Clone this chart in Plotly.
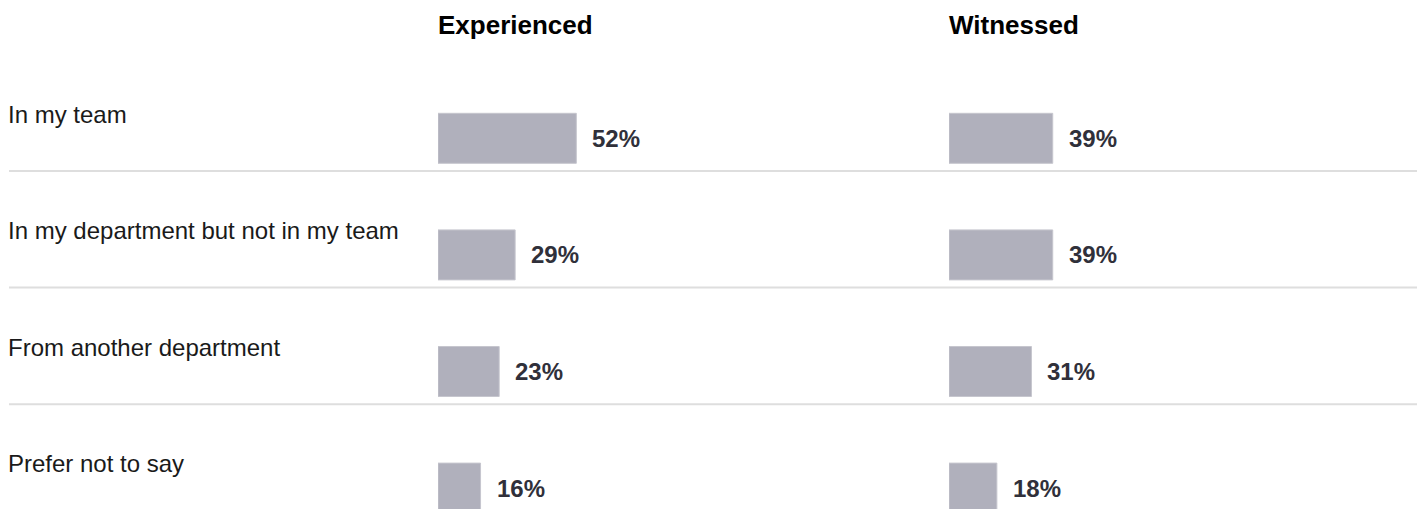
import plotly.graph_objects as go

# ---- data ----
categories = ["In my team", "In my department but not in my team",
              "From another department", "Prefer not to say"]
experienced = [52, 29, 23, 16]
witnessed = [39, 39, 31, 18]
column_titles = ["Experienced", "Witnessed"]

# ---- layout constants (window pixels) ----
OFF = 8                # browser body margin
W, H = 1425 - OFF, 509 - OFF
pitch = 116.6          # row pitch in px
first_center = 138.3 - OFF
px_per_pct = 2.66
bar_h = 50
x1_start, x1_end = 438 - OFF, 940 - OFF
x2_start, x2_end = 949 - OFF, W

bar_color = "#b0b0bc"
bar_edge = "#c6c6ce"
font_family = "Liberation Sans, Arial, sans-serif"


def ypos(px):
    """window pixel -> row units"""
    return (px - OFF - first_center) / pitch


y_top = -first_center / pitch
y_bot = (H - first_center) / pitch
rows = list(range(len(categories)))

fig = go.Figure()
fig.add_trace(go.Bar(x=experienced, y=rows, orientation="h", width=bar_h / pitch,
                     marker=dict(color=bar_color, line=dict(color=bar_edge, width=1)),
                     xaxis="x", yaxis="y", hoverinfo="skip"))
fig.add_trace(go.Bar(x=witnessed, y=rows, orientation="h", width=bar_h / pitch,
                     marker=dict(color=bar_color, line=dict(color=bar_edge, width=1)),
                     xaxis="x2", yaxis="y", hoverinfo="skip"))

annotations = []
for i, (cat, e, w) in enumerate(zip(categories, experienced, witnessed)):
    annotations.append(dict(text=cat, xref="paper", x=0, xanchor="left", xshift=-2,
                            yref="y", y=i + ypos(114) - ypos(138.3), yanchor="middle",
                            showarrow=False, font=dict(size=24, color="#1a1a1a", family=font_family)))
    annotations.append(dict(text=f"<b>{e}%</b>", xref="x", x=e, xanchor="left", xshift=14,
                            yref="y", y=i, yanchor="middle", showarrow=False,
                            font=dict(size=24, color="#30303a", family=font_family)))
    annotations.append(dict(text=f"<b>{w}%</b>", xref="x2", x=w, xanchor="left", xshift=14,
                            yref="y", y=i, yanchor="middle", showarrow=False,
                            font=dict(size=24, color="#30303a", family=font_family)))

for title, xs in zip(column_titles, [x1_start, x2_start]):
    annotations.append(dict(text=f"<b>{title}</b>", xref="paper", x=xs / W, xanchor="left",
                            xshift=-2, yref="y", y=ypos(25), yanchor="middle",
                            showarrow=False, font=dict(size=26, color="#000000", family=font_family)))

shapes = []
for i in rows[:-1]:
    yy = i + ypos(171) - ypos(138.3)
    shapes.append(dict(type="line", xref="paper", yref="y", x0=(9 - OFF) / W, x1=(1417 - OFF) / W,
                       y0=yy, y1=yy, line=dict(color="#dedede", width=2), layer="below"))

fig.update_layout(
    width=W, height=H, margin=dict(l=0, r=0, t=0, b=0),
    paper_bgcolor="white", plot_bgcolor="white", showlegend=False,
    xaxis=dict(domain=[x1_start / W, x1_end / W], range=[0, (x1_end - x1_start) / px_per_pct],
               visible=False, fixedrange=True),
    xaxis2=dict(domain=[x2_start / W, 1], range=[0, (x2_end - x2_start) / px_per_pct],
                visible=False, fixedrange=True),
    yaxis=dict(range=[y_bot, y_top], visible=False, fixedrange=True),
    annotations=annotations, shapes=shapes,
)

fig.write_html("out.html")
